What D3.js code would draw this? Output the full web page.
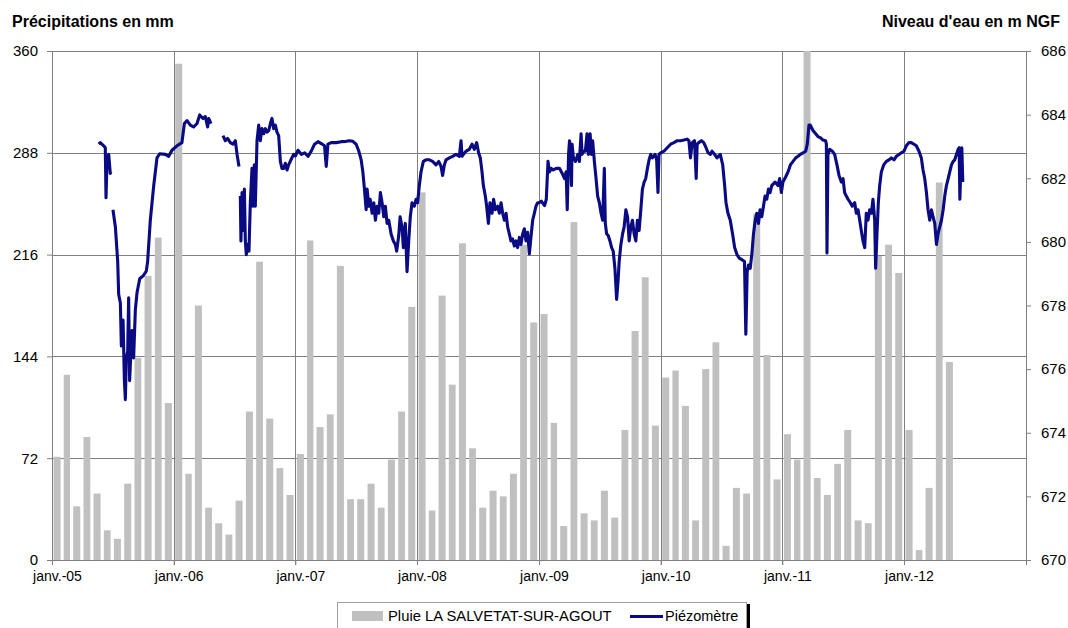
<!DOCTYPE html>
<html>
<head>
<meta charset="utf-8">
<script src="https://cdn.jsdelivr.net/npm/d3@7"></script>
<style>
  body { margin: 0; background: #fff; }
  text { font-family: "Liberation Sans", Arial, sans-serif; fill: #000; }
</style>
</head>
<body>
<svg id="chart" width="1068" height="628"></svg>
<script>
// Monthly rain (mm), one array per year, starting in January
const rain2005 = [73, 131, 38, 87, 47, 21, 15, 54, 143, 201, 228, 111];
const rain2006 = [351, 61, 180, 37, 26, 18, 42, 105, 211, 100, 65, 46];
const rain2007 = [75, 226, 94, 103, 208, 43, 43, 54, 37, 71, 105, 179];
const rain2008 = [260, 35, 187, 124, 224, 79, 37, 49, 45, 61, 223, 168];
const rain2009 = [174, 97, 24, 239, 33, 28, 49, 30, 92, 162, 200, 95];
const rain2010 = [129, 134, 109, 28, 135, 154, 10, 51, 47, 245, 145, 57];
const rain2011 = [89, 71, 375, 58, 46, 68, 92, 28, 26, 215, 223, 203];
const rain2012 = [92, 7, 51, 267, 140];
const rainYears = [2005, 2006, 2007, 2008, 2009, 2010, 2011, 2012];

// Piezometer level (m NGF) : [decimal year, level], null = gap in record
const piezo2005 = [
  [2005.384, 683.07], [2005.397, 683.12], [2005.425, 683.02], [2005.438, 682.96], [2005.444, 681.39],
  [2005.452, 682.53], [2005.466, 682.75], [2005.479, 682.15], [2005.485, 682.20], null,
  [2005.501, 681.01], [2005.521, 680.47], [2005.540, 679.38], [2005.548, 678.35], [2005.562, 678.08],
  [2005.570, 676.73], [2005.584, 677.54], [2005.595, 675.64], [2005.603, 675.04], [2005.611, 676.35],
  [2005.622, 676.56], [2005.630, 678.24], [2005.638, 675.64], [2005.649, 676.56], [2005.658, 677.21],
  [2005.671, 676.35], [2005.685, 677.86], [2005.699, 678.41], [2005.721, 678.84], [2005.753, 678.95],
  [2005.775, 679.08], [2005.786, 679.38], [2005.808, 680.68], [2005.836, 681.77], [2005.863, 682.64],
  [2005.885, 682.77], [2005.932, 682.75], [2005.959, 682.69], [2005.986, 682.88]
];
const piezo2006 = [
  [2006.027, 683.02], [2006.068, 683.12], [2006.088, 683.72], [2006.110, 683.81], [2006.137, 683.67],
  [2006.164, 683.61], [2006.192, 683.72], [2006.214, 683.99], [2006.241, 683.88], [2006.260, 683.94],
  [2006.279, 683.61], [2006.288, 683.88], [2006.307, 683.72], null,
  [2006.405, 683.34], [2006.425, 683.18], [2006.444, 683.25], [2006.466, 683.12], [2006.488, 683.07],
  [2006.507, 683.18], [2006.521, 682.75], [2006.537, 682.37], null,
  [2006.548, 681.44], [2006.553, 680.03], [2006.562, 681.55], [2006.575, 680.36], [2006.581, 681.66],
  [2006.589, 680.03], [2006.597, 679.60], [2006.608, 679.92], [2006.619, 679.71], [2006.630, 681.23],
  [2006.644, 682.31], [2006.652, 681.12], [2006.663, 682.42], [2006.671, 681.12], [2006.685, 683.18],
  [2006.699, 683.67], [2006.712, 683.18], [2006.726, 683.56], [2006.740, 683.40], [2006.753, 683.56],
  [2006.767, 683.45], [2006.781, 683.50], [2006.795, 683.72], [2006.808, 683.88], [2006.822, 683.56],
  [2006.836, 683.67], [2006.849, 683.45], [2006.863, 683.34], [2006.877, 682.53], [2006.890, 682.31],
  [2006.904, 682.31], [2006.918, 682.47], [2006.932, 682.26], [2006.945, 682.42], [2006.964, 682.58],
  [2006.986, 682.75]
];
const piezo2007 = [
  [2007.000, 682.70], [2007.022, 682.88], [2007.049, 682.75], [2007.077, 682.80], [2007.104, 682.69],
  [2007.131, 682.85], [2007.158, 683.07], [2007.186, 683.15], [2007.213, 683.09], [2007.240, 683.02],
  [2007.254, 682.37], [2007.268, 683.07], [2007.295, 683.12], [2007.336, 683.12], [2007.377, 683.15],
  [2007.418, 683.16], [2007.445, 683.18], [2007.473, 683.16], [2007.500, 683.07], [2007.522, 682.85],
  [2007.541, 682.58], [2007.555, 682.20], [2007.568, 681.66], [2007.582, 681.01], [2007.590, 681.66],
  [2007.604, 681.12], [2007.615, 681.34], [2007.631, 680.90], [2007.645, 681.23], [2007.658, 680.68],
  [2007.672, 681.12], [2007.686, 680.90], [2007.699, 681.55], [2007.713, 681.23], [2007.727, 680.79],
  [2007.740, 681.12], [2007.754, 680.58], [2007.768, 680.68], [2007.787, 680.25], [2007.806, 680.03],
  [2007.822, 679.92], [2007.833, 679.71], [2007.850, 680.20], [2007.861, 680.79], [2007.877, 680.47],
  [2007.888, 679.82], [2007.904, 680.58], [2007.918, 679.06], [2007.932, 680.03], [2007.945, 680.79],
  [2007.959, 681.23], [2007.978, 681.12], [2007.992, 681.34]
];
const piezo2008 = [
  [2008.005, 681.23], [2008.019, 681.77], [2008.033, 682.20], [2008.052, 682.53], [2008.074, 682.58],
  [2008.101, 682.58], [2008.128, 682.53], [2008.156, 682.42], [2008.178, 682.53], [2008.197, 682.37],
  [2008.210, 682.09], [2008.224, 682.42], [2008.238, 682.58], [2008.265, 682.64], [2008.292, 682.69],
  [2008.320, 682.75], [2008.347, 682.69], [2008.361, 683.18], [2008.369, 682.69], [2008.380, 682.75],
  [2008.402, 682.85], [2008.429, 682.91], [2008.451, 683.07], [2008.470, 682.91], [2008.489, 683.12],
  [2008.505, 682.80], [2008.519, 682.64], [2008.533, 682.20], [2008.544, 681.77], [2008.560, 681.44],
  [2008.571, 681.12], [2008.585, 680.58], [2008.598, 681.23], [2008.615, 680.90], [2008.628, 681.34],
  [2008.642, 681.01], [2008.661, 681.12], [2008.675, 680.90], [2008.689, 681.23], [2008.702, 680.90],
  [2008.716, 680.68], [2008.730, 680.90], [2008.743, 680.47], [2008.757, 680.25], [2008.770, 680.03],
  [2008.784, 680.09], [2008.798, 679.87], [2008.811, 680.03], [2008.825, 679.82], [2008.839, 680.14],
  [2008.852, 679.92], [2008.866, 680.25], [2008.880, 680.41], [2008.893, 680.03], [2008.907, 680.30],
  [2008.921, 679.62], [2008.934, 680.14], [2008.948, 680.68], [2008.962, 680.90], [2008.975, 681.12],
  [2008.989, 681.23]
];
const piezo2009 = [
  [2009.000, 681.23], [2009.019, 681.28], [2009.046, 681.14], [2009.060, 681.34], [2009.074, 682.53],
  [2009.087, 682.20], [2009.101, 682.31], [2009.114, 682.26], [2009.142, 682.31], [2009.169, 682.31],
  [2009.191, 682.15], [2009.210, 681.99], [2009.223, 682.20], [2009.232, 681.01], [2009.243, 682.75],
  [2009.251, 683.18], [2009.259, 682.96], [2009.267, 681.77], [2009.272, 683.07], [2009.283, 682.64],
  [2009.300, 682.53], [2009.319, 682.75], [2009.332, 682.53], [2009.346, 683.40], [2009.354, 682.75],
  [2009.368, 682.85], [2009.381, 682.85], [2009.395, 683.40], [2009.406, 682.75], [2009.420, 683.40],
  [2009.431, 682.75], [2009.441, 683.18], [2009.455, 682.53], [2009.469, 681.99], [2009.482, 681.44],
  [2009.496, 681.23], [2009.510, 680.90], [2009.523, 680.68], [2009.537, 682.31], [2009.545, 680.58],
  [2009.556, 680.25], [2009.569, 680.20], [2009.583, 680.03], [2009.597, 679.82], [2009.610, 679.71],
  [2009.624, 679.17], [2009.638, 678.19], [2009.649, 678.73], [2009.659, 679.38], [2009.673, 679.92],
  [2009.687, 680.25], [2009.700, 680.47], [2009.714, 681.01], [2009.728, 680.79], [2009.741, 680.03],
  [2009.755, 680.47], [2009.768, 680.68], [2009.782, 680.25], [2009.796, 680.03], [2009.809, 680.68],
  [2009.823, 680.36], [2009.837, 681.01], [2009.850, 681.66], [2009.864, 681.88], [2009.877, 681.99],
  [2009.891, 682.31], [2009.905, 682.58], [2009.918, 682.75], [2009.932, 682.64], [2009.954, 682.75],
  [2009.967, 682.58], [2009.978, 681.55], [2009.986, 682.75]
];
const piezo2010 = [
  [2010.000, 682.80], [2010.027, 682.85], [2010.054, 682.96], [2010.082, 683.07], [2010.109, 683.12],
  [2010.136, 683.18], [2010.163, 683.18], [2010.191, 683.20], [2010.218, 683.23], [2010.232, 683.18],
  [2010.245, 682.64], [2010.259, 683.12], [2010.278, 683.18], [2010.292, 681.99], [2010.300, 683.07],
  [2010.313, 683.12], [2010.335, 683.18], [2010.354, 683.12], [2010.373, 682.96], [2010.390, 682.80],
  [2010.409, 682.75], [2010.422, 682.85], [2010.444, 682.75], [2010.463, 682.64], [2010.490, 682.75],
  [2010.510, 682.42], [2010.526, 681.77], [2010.537, 681.23], [2010.553, 680.90], [2010.572, 680.68],
  [2010.591, 680.25], [2010.608, 679.82], [2010.627, 679.60], [2010.646, 679.49], [2010.668, 679.44],
  [2010.689, 679.38], [2010.700, 677.10], [2010.711, 679.06], [2010.722, 679.27], [2010.736, 679.17],
  [2010.749, 679.60], [2010.763, 680.25], [2010.777, 680.68], [2010.790, 680.90], [2010.804, 680.58],
  [2010.817, 681.01], [2010.831, 680.79], [2010.845, 681.12], [2010.858, 681.44], [2010.872, 681.34],
  [2010.886, 681.66], [2010.899, 681.55], [2010.913, 681.77], [2010.940, 681.88], [2010.964, 681.77],
  [2010.978, 681.99], [2010.992, 681.55]
];
const piezo2011 = [
  [2011.005, 681.88], [2011.027, 682.04], [2011.047, 682.20], [2011.066, 682.42], [2011.088, 682.53],
  [2011.110, 682.64], [2011.129, 682.69], [2011.148, 682.75], [2011.170, 682.80], [2011.192, 682.85],
  [2011.205, 683.07], [2011.219, 683.67], [2011.230, 683.67], [2011.252, 683.50], [2011.274, 683.40],
  [2011.293, 683.31], [2011.315, 683.27], [2011.334, 683.20], [2011.356, 683.18], [2011.362, 683.07],
  [2011.367, 679.65], [2011.375, 682.75], [2011.389, 682.91], [2011.411, 682.85], [2011.430, 682.75],
  [2011.449, 682.42], [2011.466, 682.09], [2011.485, 681.88], [2011.499, 681.99], [2011.512, 681.55],
  [2011.526, 681.44], [2011.540, 681.34], [2011.559, 681.23], [2011.575, 681.12], [2011.595, 681.23],
  [2011.608, 680.90], [2011.622, 681.01], [2011.636, 680.68], [2011.649, 680.36], [2011.663, 680.03],
  [2011.677, 679.82], [2011.690, 680.90], [2011.704, 680.68], [2011.718, 681.01], [2011.732, 680.90],
  [2011.745, 681.34], [2011.759, 680.68], [2011.767, 679.17], [2011.778, 680.25], [2011.789, 681.23],
  [2011.800, 681.77], [2011.814, 682.20], [2011.833, 682.42], [2011.855, 682.53], [2011.877, 682.58],
  [2011.896, 682.64], [2011.918, 682.58], [2011.937, 682.69], [2011.959, 682.75], [2011.978, 682.80]
];
const piezo2012 = [
  [2012.000, 682.85], [2012.019, 683.02], [2012.041, 683.12], [2012.060, 683.12], [2012.082, 683.07],
  [2012.101, 683.02], [2012.123, 682.85], [2012.142, 682.64], [2012.156, 682.26], [2012.170, 681.99],
  [2012.184, 681.55], [2012.197, 681.01], [2012.211, 680.68], [2012.225, 681.01], [2012.238, 680.79],
  [2012.252, 680.58], [2012.266, 679.92], [2012.279, 680.25], [2012.293, 680.47], [2012.307, 680.68],
  [2012.321, 681.01], [2012.334, 681.44], [2012.348, 681.77], [2012.362, 681.99], [2012.375, 682.20],
  [2012.389, 682.42], [2012.403, 682.53], [2012.416, 682.58], [2012.430, 682.75], [2012.444, 682.91],
  [2012.452, 682.96], [2012.458, 681.34], [2012.466, 682.31], [2012.474, 682.96], [2012.482, 681.88]
];

// Axis ticks and labels
const leftTicks = [0, 72, 144, 216, 288, 360];
const rightTicks = [670, 672, 674, 676, 678, 680, 682, 684, 686];
const xTickLabels = ['janv.-05', 'janv.-06', 'janv.-07', 'janv.-08', 'janv.-09', 'janv.-10', 'janv.-11', 'janv.-12'];
const rainLabel = 'Pluie LA SALVETAT-SUR-AGOUT';
const piezoLabel = 'Piézomètre';

// =====================
// Layout
// =====================
const plotL = 52, plotR = 1026, plotT = 51, plotB = 560;
const gridColor = '#808080', barColor = '#c0c0c0', lineColor = '#0a0a82';

const svg = d3.select('#chart');

const x = d3.scaleTime()
  .domain([new Date(2005, 0, 1), new Date(2013, 0, 1)])
  .range([plotL, plotR]);
const yL = d3.scaleLinear().domain([0, 360]).range([plotB, plotT]);
const yR = d3.scaleLinear().domain([670, 686]).range([plotB, plotT]);

// decimal year -> Date
function decYear(v) {
  const y = Math.floor(v + 1e-9);
  const s = new Date(y, 0, 1), e = new Date(y + 1, 0, 1);
  return new Date(+s + (v - y) * (e - s));
}

// rain records with their month
const rainByYear = [rain2005, rain2006, rain2007, rain2008, rain2009, rain2010, rain2011, rain2012];
const rain = [];
rainByYear.forEach((arr, i) => arr.forEach((v, m) => rain.push({ date: new Date(rainYears[i], m, 1), value: v })));

const piezo = [].concat(piezo2005, piezo2006, piezo2007, piezo2008, piezo2009, piezo2010, piezo2011, piezo2012);

svg.append('clipPath').attr('id', 'plot-clip')
  .append('rect').attr('x', plotL).attr('y', plotT).attr('width', plotR - plotL).attr('height', plotB - plotT);

// --- Grid
const grid = svg.append('g').attr('stroke', gridColor).attr('stroke-width', 1);
grid.selectAll('.h').data(leftTicks.slice(1)).join('line')
  .attr('x1', plotL).attr('x2', plotR)
  .attr('y1', d => Math.round(yL(d)) + 0.5).attr('y2', d => Math.round(yL(d)) + 0.5);
const janTicks = rainYears.map(y => new Date(y, 0, 1)).concat([new Date(2013, 0, 1)]);
grid.selectAll('.v').data(janTicks).join('line')
  .attr('x1', d => Math.round(x(d)) + 0.5).attr('x2', d => Math.round(x(d)) + 0.5)
  .attr('y1', plotT).attr('y2', plotB + 5);

// --- Bars
svg.append('g').attr('clip-path', 'url(#plot-clip)')
  .selectAll('rect').data(rain).join('rect')
  .attr('x', d => {
    const x0 = x(d.date), x1 = x(d3.timeMonth.offset(d.date, 1));
    return x0 + (x1 - x0) * 0.15;
  })
  .attr('width', d => (x(d3.timeMonth.offset(d.date, 1)) - x(d.date)) * 0.68)
  .attr('y', d => yL(d.value))
  .attr('height', d => plotB - yL(d.value))
  .attr('fill', barColor);

// --- Axes
const axL = d3.axisLeft(yL).tickValues(leftTicks).tickSize(5).tickPadding(9);
const axR = d3.axisRight(yR).tickValues(rightTicks).tickSize(5).tickPadding(10);
const axB = d3.axisBottom(x).tickValues(janTicks.slice(0, 8)).tickSize(5).tickFormat((d, i) => xTickLabels[i]);

function styleAxis(g) {
  g.selectAll('path, line').attr('stroke', gridColor);
  g.selectAll('text').style('font-size', '15px').attr('fill', '#000');
}
svg.append('g').attr('transform', `translate(${plotL},0)`).call(axL).call(styleAxis)
  .call(g => g.select('.domain').attr('d', `M0.5,${plotT}V${plotB}`));
svg.append('g').attr('transform', `translate(${plotR},0)`).call(axR).call(styleAxis)
  .call(g => g.select('.domain').attr('d', `M0.5,${plotT}V${plotB}`));
svg.append('g').attr('transform', `translate(0,${plotB})`).call(axB).call(styleAxis)
  .call(g => g.select('.domain').attr('d', `M${plotL},0.5H${plotR}`))
  .call(g => g.selectAll('text').style('font-size', '14px').attr('dx', 5).attr('dy', '0.9em'));

// --- Piezometer line
const line = d3.line()
  .defined(d => d !== null)
  .x(d => x(decYear(d[0])))
  .y(d => yR(d[1]));
svg.append('path').datum(piezo)
  .attr('d', line)
  .attr('fill', 'none')
  .attr('stroke', lineColor)
  .attr('stroke-width', 3.1)
  .attr('stroke-linejoin', 'round');

// --- Titles
svg.append('text').attr('x', 12).attr('y', 27)
  .style('font-size', '16px').style('font-weight', 'bold').text('Précipitations en mm');
svg.append('text').attr('x', 1060).attr('y', 27).attr('text-anchor', 'end')
  .style('font-size', '16px').style('font-weight', 'bold').text("Niveau d'eau en m NGF");

// --- Legend
const lg = svg.append('g');
lg.append('rect').attr('x', 340).attr('y', 604).attr('width', 410).attr('height', 30)
  .attr('fill', '#000');
lg.append('rect').attr('x', 337.5).attr('y', 602.5).attr('width', 409).attr('height', 30)
  .attr('fill', '#fff').attr('stroke', '#a0a0a0');
lg.append('rect').attr('x', 352).attr('y', 611).attr('width', 31).attr('height', 10).attr('fill', barColor);
lg.append('text').attr('x', 388).attr('y', 621).style('font-size', '14.8px').text(rainLabel);
lg.append('line').attr('x1', 630).attr('x2', 663).attr('y1', 616.5).attr('y2', 616.5)
  .attr('stroke', lineColor).attr('stroke-width', 2.8);
lg.append('text').attr('x', 665).attr('y', 621).style('font-size', '14.5px').text(piezoLabel);
</script>
</body>
</html>
